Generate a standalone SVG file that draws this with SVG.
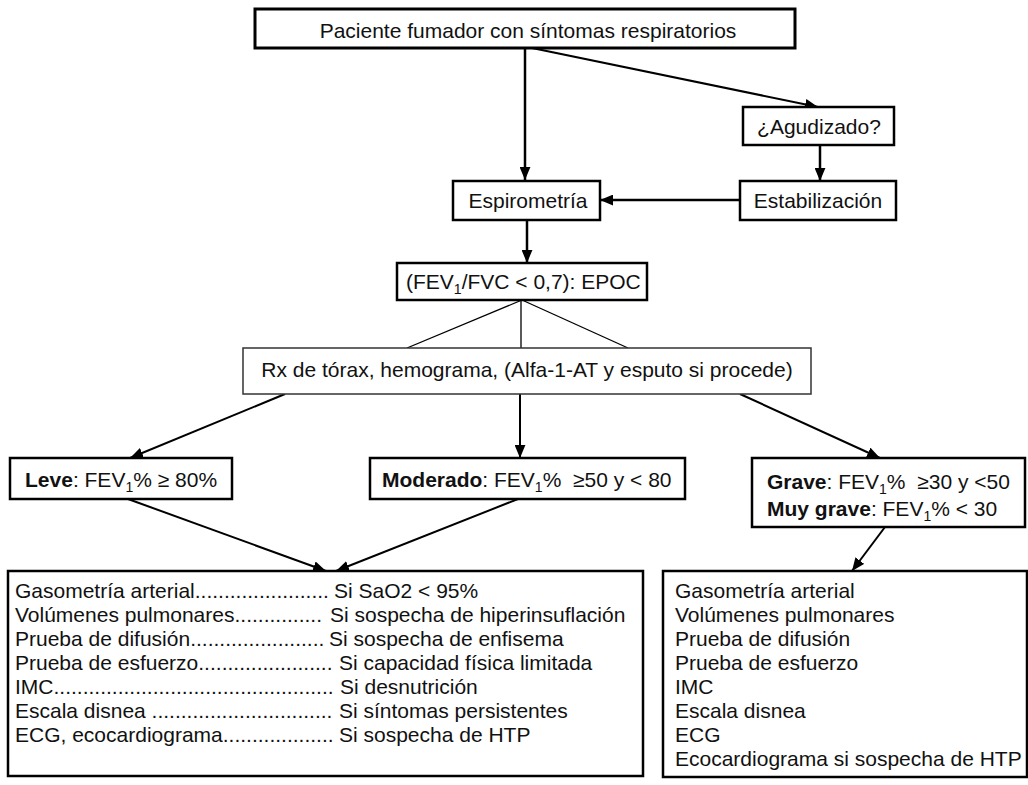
<svg xmlns="http://www.w3.org/2000/svg" width="1028" height="785" viewBox="0 0 1028 785">
<style>
  text { font-family: "Liberation Sans", Arial, sans-serif; font-size: 21px; fill: #111; white-space: pre; }
  .box { fill: #fff; stroke: #000; stroke-width: 2.5; }
  .thick { stroke-width: 3; }
  .thin { stroke-width: 1.5; stroke: #333; }
  .mid { text-anchor: middle; }
  .b { font-weight: bold; }
  .sub { font-size: 14px; }
  .conn line { stroke: #000; stroke-width: 2; fill: none; }
  .conn .arr { marker-end: url(#ah); }
  .conn .fine { stroke-width: 1.3; }
</style>
<defs>
  <marker id="ah" viewBox="0 0 12 10" refX="12" refY="5" markerWidth="13" markerHeight="11" markerUnits="userSpaceOnUse" orient="auto">
    <path d="M0,0 L12,5 L0,10 z" fill="#000"/>
  </marker>
</defs>
<rect width="1028" height="785" fill="#fff"/>

<g id="connectors" class="conn">
  <line class="arr" x1="525" y1="48" x2="525" y2="180" style="stroke-width:2.5"/>
  <line class="arr" x1="532" y1="48" x2="818" y2="107"/>
  <line class="arr" x1="820" y1="145" x2="820" y2="181" style="stroke-width:2.5"/>
  <line class="arr" x1="740" y1="200" x2="600" y2="200" style="stroke-width:2.5"/>
  <line class="arr" x1="527" y1="220" x2="527" y2="263" style="stroke-width:2.5"/>
  <line class="fine" x1="522" y1="300" x2="407" y2="348"/>
  <line class="fine" x1="521" y1="300" x2="521" y2="348"/>
  <line class="fine" x1="522" y1="300" x2="628" y2="348"/>
  <line class="arr" x1="285" y1="394" x2="130" y2="458"/>
  <line class="arr" x1="520" y1="394" x2="520" y2="458"/>
  <line class="arr" x1="740" y1="394" x2="880" y2="458"/>
  <line class="arr" x1="128" y1="499" x2="326" y2="571"/>
  <line class="arr" x1="518" y1="499" x2="336" y2="571"/>
  <line class="arr" x1="885" y1="527" x2="852" y2="571"/>
</g>

<g id="paciente">
  <rect class="box thick" x="255" y="9" width="540" height="39"/>
  <text class="mid" x="528" y="38">Paciente fumador con síntomas respiratorios</text>
</g>

<g id="agudizado">
  <rect class="box" x="743" y="107" width="151" height="38"/>
  <text class="mid" x="819" y="134">¿Agudizado?</text>
</g>

<g id="estabilizacion">
  <rect class="box" x="740" y="181" width="156" height="39"/>
  <text class="mid" x="818" y="208">Estabilización</text>
</g>

<g id="espirometria">
  <rect class="box" x="453" y="181" width="147" height="39"/>
  <text class="mid" x="528" y="208">Espirometría</text>
</g>

<g id="epoc">
  <rect class="box" x="397" y="263" width="250" height="37"/>
  <text x="406" y="289">(FEV<tspan class="sub" dy="5">1</tspan><tspan dy="-5">/FVC &lt; 0,7): EPOC</tspan></text>
</g>

<g id="rx">
  <rect class="box thin" x="243" y="348" width="568" height="46"/>
  <text class="mid" x="527" y="377">Rx de tórax, hemograma, (Alfa-1-AT y esputo si procede)</text>
</g>

<g id="leve">
  <rect class="box" x="10" y="458" width="222" height="41"/>
  <text x="25" y="487"><tspan class="b">Leve</tspan>: FEV<tspan class="sub" dy="5">1</tspan><tspan dy="-5">% ≥ 80%</tspan></text>
</g>

<g id="moderado">
  <rect class="box" x="370" y="458" width="315" height="41"/>
  <text x="382" y="487"><tspan class="b">Moderado</tspan>: FEV<tspan class="sub" dy="5">1</tspan><tspan dy="-5">%  ≥50 y &lt; 80</tspan></text>
</g>

<g id="grave">
  <rect class="box" x="752" y="458" width="273" height="69"/>
  <text x="767" y="489"><tspan class="b">Grave</tspan>: FEV<tspan class="sub" dy="5">1</tspan><tspan dy="-5">%  ≥30 y &lt;50</tspan></text>
  <text x="767" y="516"><tspan class="b">Muy grave</tspan>: FEV<tspan class="sub" dy="5">1</tspan><tspan dy="-5">% &lt; 30</tspan></text>
</g>

<g id="pruebas-leve-moderado">
  <rect class="box" x="8" y="571" width="635" height="205"/>
  <text x="15" y="598">Gasometría arterial.......................</text>
  <text x="334" y="598">Si SaO2 &lt; 95%</text>
  <text x="15" y="622">Volúmenes pulmonares...............</text>
  <text x="330" y="622">Si sospecha de hiperinsuflación</text>
  <text x="15" y="646">Prueba de difusión.......................</text>
  <text x="329" y="646">Si sospecha de enfisema</text>
  <text x="15" y="670">Prueba de esfuerzo.......................</text>
  <text x="339" y="670">Si capacidad física limitada</text>
  <text x="15" y="694">IMC................................................</text>
  <text x="340" y="694">Si desnutrición</text>
  <text x="15" y="718">Escala disnea ...............................</text>
  <text x="339" y="718">Si síntomas persistentes</text>
  <text x="15" y="742">ECG, ecocardiograma...................</text>
  <text x="339" y="742">Si sospecha de HTP</text>
</g>

<g id="pruebas-grave">
  <rect class="box" x="663" y="571" width="364" height="206"/>
  <text x="675" y="598">Gasometría arterial</text>
  <text x="675" y="622">Volúmenes pulmonares</text>
  <text x="675" y="646">Prueba de difusión</text>
  <text x="675" y="670">Prueba de esfuerzo</text>
  <text x="675" y="694">IMC</text>
  <text x="675" y="718">Escala disnea</text>
  <text x="675" y="742">ECG</text>
  <text x="675" y="766">Ecocardiograma si sospecha de HTP</text>
</g>
</svg>
